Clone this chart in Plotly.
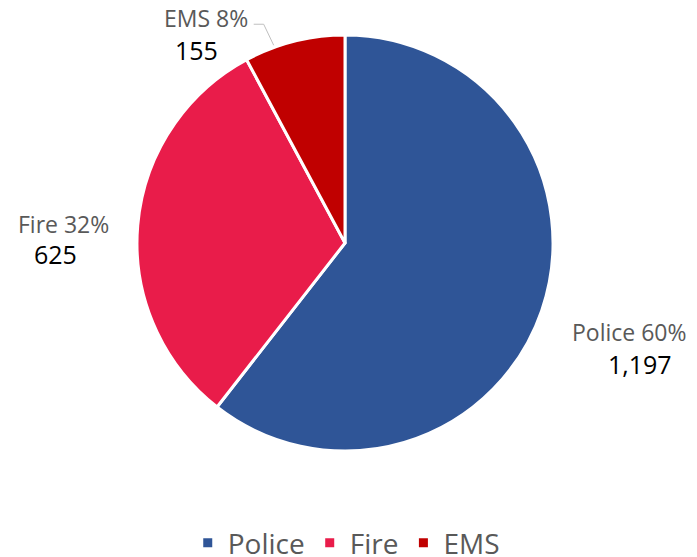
import math
import plotly.graph_objects as go

categories = ["Police", "Fire", "EMS"]
values = [1197, 625, 155]
pct_labels = ["60%", "32%", "8%"]
colors = ["#2F5597", "#E91C4A", "#C00000"]

W, H = 697, 557
# pie placement (pixels)
cx, cy, r = 345, 243, 208
ML, MT = cx - r, cy - r
MR, MB = W - (cx + r), H - (cy + r)
PW, PH = 2 * r, 2 * r


def px2paper(px, py):
    return (px - ML) / PW, ((cy + r) - py) / PH


fig = go.Figure(go.Pie(
    labels=categories, values=values, sort=False, direction="clockwise",
    rotation=0, marker=dict(colors=colors, line=dict(color="white", width=3)),
    textinfo="none", hoverinfo="label+value+percent",
))

# label offsets (pixels) relative to the slice edge point: (name line, value line)
name_off = {"Police": (88, 21), "Fire": (-74, -1), "EMS": (-69, -29)}
val_off = {"Police": (98, 53), "Fire": (-82, 29), "EMS": (-78, 3)}
edge_frac = {"Police": 0.5, "Fire": 0.5, "EMS": 0.3}

total = sum(values)
cum = 0
for cat, v, p in zip(categories, values, pct_labels):
    start = cum / total * 360
    cum += v
    end = cum / total * 360
    ang = start + edge_frac[cat] * (end - start)
    a = math.radians(ang)
    ex = cx + r * math.sin(a)
    ey = cy - r * math.cos(a)
    nx, ny = px2paper(ex + name_off[cat][0], ey + name_off[cat][1])
    vx, vy = px2paper(ex + val_off[cat][0], ey + val_off[cat][1])
    fig.add_annotation(x=nx, y=ny, xref="paper", yref="paper",
                       text=f"{cat} {p}", showarrow=False,
                       xanchor="center", yanchor="middle",
                       font=dict(family="Open Sans", size=23, color="#595959"))
    fig.add_annotation(x=vx, y=vy, xref="paper", yref="paper",
                       text=f"{v:,}", showarrow=False,
                       xanchor="center", yanchor="middle",
                       font=dict(family="Open Sans", size=25, color="#000000"))
    if cat == "EMS":
        x0, y0 = px2paper(ex - 1, ey - 2)
        x1, y1 = px2paper(ex - 11, ey - 23)
        x2, y2 = px2paper(ex - 21, ey - 23)
        fig.add_shape(type="path", xref="paper", yref="paper",
                      path=f"M {x0} {y0} L {x1} {y1} L {x2} {y2}",
                      line=dict(color="#BFBFBF", width=1))

fig.update_layout(
    width=W, height=H,
    margin=dict(l=ML, r=MR, t=MT, b=MB, autoexpand=False),
    paper_bgcolor="white", plot_bgcolor="white",
    showlegend=True,
    legend=dict(orientation="h", x=0.503, xanchor="center",
                y=((cy + r) - 543) / PH, yanchor="middle",
                font=dict(family="Open Sans", size=28, color="#595959")),
)

fig.write_html("out.html", config={"displayModeBar": False},
               post_script="document.body.style.margin='0';")
